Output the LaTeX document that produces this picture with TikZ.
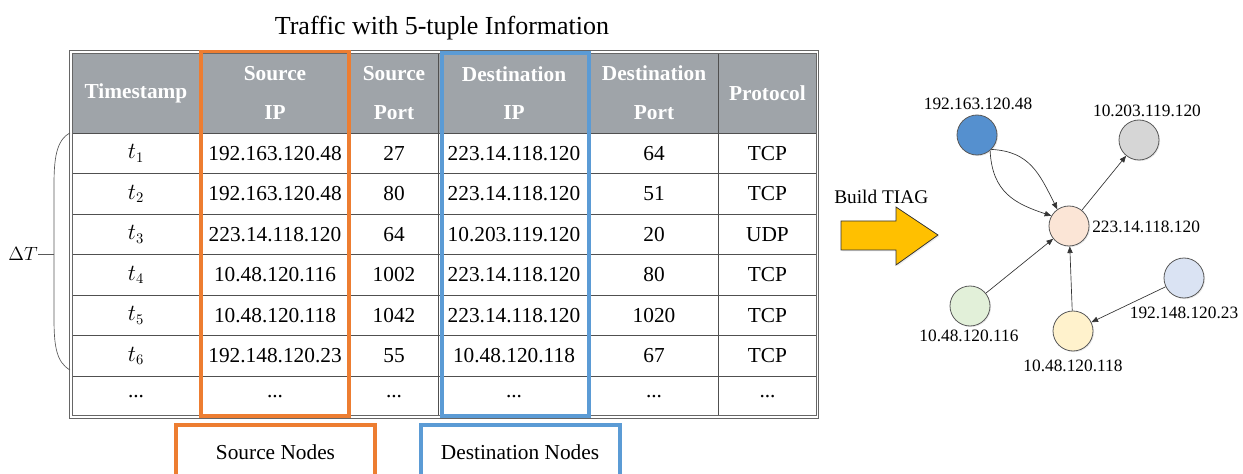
\documentclass[tikz,border=0pt]{standalone}
\usepackage{fontspec}
\setmainfont{Liberation Serif}
\usetikzlibrary{arrows.meta,shadows}
\definecolor{hdr}{HTML}{9FA4A9}
\definecolor{gridc}{HTML}{505050}
\definecolor{org}{HTML}{ED7D31}
\definecolor{blu}{HTML}{5B9BD5}
\definecolor{arrowy}{HTML}{FFC000}
\definecolor{nblue}{HTML}{5590CF}
\definecolor{ngray}{HTML}{D6D6D6}
\definecolor{npeach}{HTML}{FBE5D6}
\definecolor{ngreen}{HTML}{E2F0D9}
\definecolor{nyellow}{HTML}{FFF2CC}
\definecolor{nlav}{HTML}{DAE3F3}
\newcommand\myell{...}
\tikzset{
  cell/.style={inner sep=0pt, font=\fontsize{16}{19}\selectfont},
  hcell/.style={inner sep=0pt, text=white, align=center, font=\fontsize{16}{29}\selectfont\bfseries},
  gridline/.style={draw=gridc, line width=0.6pt},
  obox/.style={draw=org, line width=2.3pt},
  bbox/.style={draw=blu, line width=2.3pt},
  gnode/.style={circle, draw=gray!70!black, line width=0.6pt, minimum size=30pt, inner sep=0pt,
    drop shadow={opacity=0.18, shadow xshift=0.8pt, shadow yshift=-0.8pt}},
  glabel/.style={inner sep=0pt, font=\fontsize{13}{15}\selectfont},
  edge/.style={draw=gray!40!black, line width=0.5pt, -{Triangle[length=5pt,width=4pt]}},
}
\begin{document}
\begin{tikzpicture}[x=0.75pt,y=-0.75pt]
\useasboundingbox (0,0) rectangle (1243,474);
% title
\node[anchor=base, inner sep=0pt, font=\fontsize{19.5}{22}\selectfont] (title) at (442,35) {Traffic with 5-tuple Information};
% header background
\fill[hdr] (72,52) rectangle (817,133);
% grid
\foreach \yy in {133,173.5,214,254.5,295,335.5,376}
  \draw[gridline] (72,\yy) -- (817,\yy);
\foreach \xx in {200,350,438,590,718}
  \draw[gridline] (\xx,52) -- (\xx,416.5);
% outer frame
\draw[draw=gray!80!black, double=white, double distance=1.3pt, line width=0.6pt] (71,52) rectangle (817.5,417);
% header text
\node[hcell] (h1) at (136,93) {Timestamp};
\node[hcell] (h2) at (275,93) {Source\\IP};
\node[hcell] (h3) at (394,93) {Source\\Port};
\node[hcell] (h4) at (514,93) {Destination\\IP};
\node[hcell] (h5) at (654,93) {Destination\\Port};
\node[hcell] (h6) at (767.5,93) {Protocol};
% rows
\foreach \i/\ts/\a/\b/\c/\d/\e in {
  1/$t_1$/192.163.120.48/27/223.14.118.120/64/TCP,
  2/$t_2$/192.163.120.48/80/223.14.118.120/51/TCP,
  3/$t_3$/223.14.118.120/64/10.203.119.120/20/UDP,
  4/$t_4$/10.48.120.116/1002/223.14.118.120/80/TCP,
  5/$t_5$/10.48.120.118/1042/223.14.118.120/1020/TCP,
  6/$t_6$/192.148.120.23/55/10.48.120.118/67/TCP,
  7/\myell/\myell/\myell/\myell/\myell/\myell}{
  \pgfmathsetmacro{\yc}{133+40.5*(\i-0.5)}
  \node[cell] (r\i c1) at (136,\yc) {\ts};
  \node[cell] (r\i c2) at (275,\yc) {\a};
  \node[cell] (r\i c3) at (394,\yc) {\b};
  \node[cell] (r\i c4) at (514,\yc) {\c};
  \node[cell] (r\i c5) at (654,\yc) {\d};
  \node[cell] (r\i c6) at (767.5,\yc) {\e};
}
% highlight boxes
\draw[obox] (201,51.5) rectangle (349,416);
\draw[bbox] (442,53) rectangle (589,416);
% brace
\coordinate (btop) at (70,133);
\coordinate (bbot) at (70,370);
\coordinate (btip) at (54,254);
\draw[draw=gray!70!black, line width=0.5pt] (btop) .. controls (56,140) and (54,160) .. (54,185) -- (54,318) .. controls (54,345) and (56,362) .. (bbot);
\node[inner sep=0pt, anchor=east, font=\fontsize{14.5}{17}\selectfont] (dT) at (38,254) {$\Delta T$};
\draw[draw=gray!70!black, line width=0.5pt] (btip) -- (dT.east);
% legend boxes
\draw[obox] (176,480) -- (176,425) -- (375,425) -- (375,480);
\draw[bbox] (421,480) -- (421,425) -- (620,425) -- (620,480);
\node[cell] (srcn) at (275.5,452) {Source Nodes};
\node[cell] (dstn) at (520,452) {Destination Nodes};
% build arrow
\node[inner sep=0pt, anchor=west, font=\fontsize{14.5}{17}\selectfont] (build) at (834,197) {Build TIAG};
\draw[fill=arrowy, draw=black!80, line width=0.6pt, drop shadow={opacity=0.15, shadow xshift=1pt, shadow yshift=-1pt}]
  (841,221) -- (896,221) -- (896,207) -- (938,235) -- (896,265) -- (896,250) -- (841,250) -- cycle;
% graph nodes
\node[gnode, fill=nblue] (n1) at (977,135) {};
\node[gnode, fill=ngray] (n2) at (1139,140) {};
\node[gnode, fill=npeach] (n3) at (1069,226) {};
\node[gnode, fill=ngreen] (n4) at (970,306) {};
\node[gnode, fill=nyellow] (n5) at (1073,331) {};
\node[gnode, fill=nlav] (n6) at (1184,278) {};
% graph labels
\node[glabel] (l1) at (978,104) {192.163.120.48};
\node[glabel] (l2) at (1147,111) {10.203.119.120};
\node[glabel, anchor=west] (l3) at (1092,227) {223.14.118.120};
\node[glabel] (l4) at (969,336) {10.48.120.116};
\node[glabel] (l5) at (1073,366) {10.48.120.118};
\node[glabel] (l6) at (1184,313) {192.148.120.23};
% edges
\draw[edge] (n1.-45) .. controls +(38,2) and +(-18,-36) .. (n3.125);
\draw[edge] (n1.-50) .. controls +(2,42) and +(-36,-12) .. (n3.150);
\draw[edge] (n3) -- (n2);
\draw[edge] (n4) -- (n3);
\draw[edge] (n5) -- (n3);
\draw[edge] (n6) -- (n5);
\end{tikzpicture}
\end{document}
